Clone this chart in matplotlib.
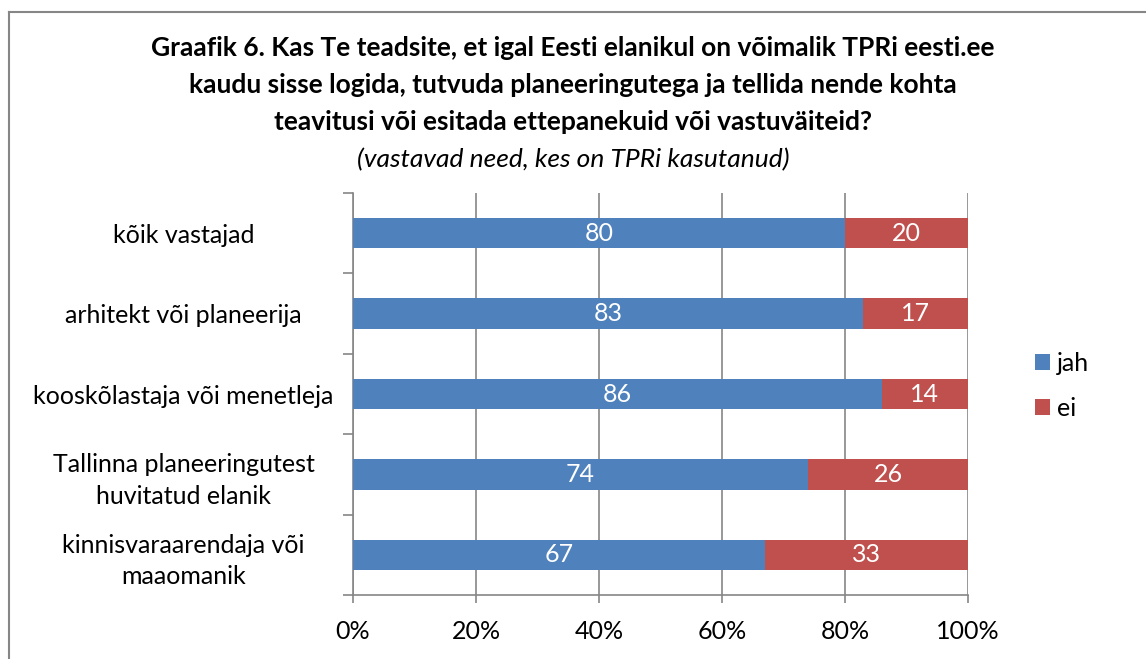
import matplotlib.pyplot as plt
from matplotlib.lines import Line2D
import numpy as np

plt.rcParams['font.family'] = ['Lato', 'DejaVu Sans']

categories = ['kõik vastajad', 'arhitekt või planeerija', 'kooskõlastaja või menetleja',
              'Tallinna planeeringutest\nhuvitatud elanik', 'kinnisvaraarendaja või\nmaaomanik']
jah = [80, 83, 86, 74, 67]
ei = [20, 17, 14, 26, 33]
xticks = [0, 20, 40, 60, 80, 100]

blue = '#4F81BD'
red = '#C0504D'
gray = '#868686'

fig = plt.figure(figsize=(11.46, 6.59), dpi=100)
ax = fig.add_axes([353/1146, 1-595/659, (968-353)/1146, (595-193)/659])

y = np.arange(len(categories))
h = 0.38
ax.barh(y, jah, height=h, color=blue, label='jah', zorder=3)
ax.barh(y, ei, left=jah, height=h, color=red, label='ei', zorder=3)

# data labels
for i in range(len(categories)):
    ax.text(jah[i]/2, y[i], str(jah[i]), color='white', ha='center', va='center', fontsize=18, zorder=4)
    ax.text(jah[i] + ei[i]/2, y[i], str(ei[i]), color='white', ha='center', va='center', fontsize=18, zorder=4)

ax.set_xlim(0, 100)
ax.set_ylim(len(categories)-0.5, -0.5)
ax.set_xticks(xticks)
ax.set_xticklabels([f'{t}%' for t in xticks], fontsize=18)
ax.xaxis.grid(True, color=gray, linewidth=1.2, zorder=0)

# category labels between boundary ticks
ax.set_yticks(np.arange(-0.5, len(categories)), minor=False)
ax.set_yticklabels([])
ax.set_yticks(y, minor=True)
ax.set_yticklabels(categories, minor=True, fontsize=18, ha='center', linespacing=1.45)
ax.tick_params(axis='y', which='minor', length=0, pad=122)
ax.tick_params(axis='y', which='major', length=7, width=1.2, color=gray, direction='out')
ax.tick_params(axis='x', length=6, width=1.2, color=gray, pad=12)

for s in ['top', 'right']:
    ax.spines[s].set_visible(False)
for s in ['left', 'bottom']:
    ax.spines[s].set_color(gray)
    ax.spines[s].set_linewidth(1.2)

leg = ax.legend(loc='center left', bbox_to_anchor=(1.072, 0.52), frameon=False, fontsize=18,
                handlelength=0.6, handleheight=0.6, handletextpad=0.3, labelspacing=0.9)

fig.text(0.5, 1-36/659, 'Graafik 6. Kas Te teadsite, et igal Eesti elanikul on võimalik TPRi eesti.ee\n'
         'kaudu sisse logida, tutvuda planeeringutega ja tellida nende kohta\n'
         'teavitusi või esitada ettepanekuid või vastuväiteid?',
         ha='center', va='top', fontsize=19, fontweight='bold', linespacing=1.65)
fig.text(0.5, 1-160/659, '(vastavad need, kes on TPRi kasutanud)', ha='center', va='center',
         fontsize=19, style='italic')

# outer chart border
fig.add_artist(Line2D([9/1146, 9/1146], [0, 1-12/659], color=gray, linewidth=1.5))
fig.add_artist(Line2D([9/1146, 1], [1-12/659, 1-12/659], color=gray, linewidth=1.5))

fig.savefig('out.png', dpi=100)
